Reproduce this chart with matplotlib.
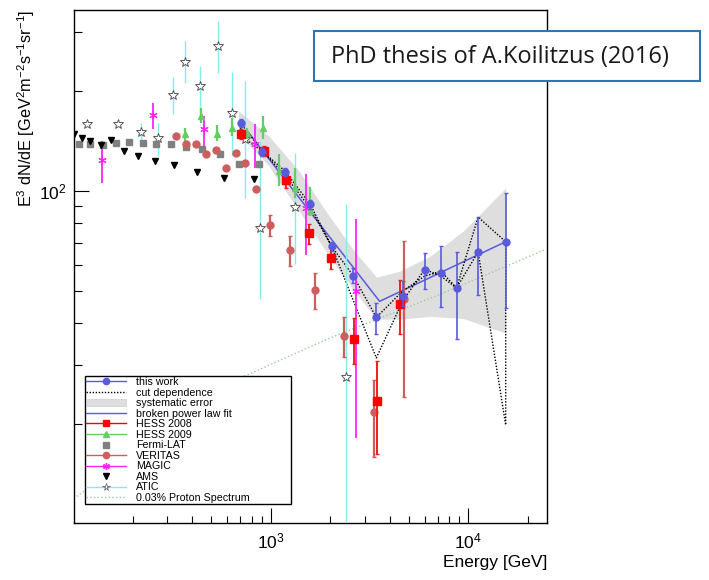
import matplotlib
matplotlib.use("Agg")
import matplotlib.pyplot as plt
from matplotlib.lines import Line2D
from matplotlib.patches import Patch, Rectangle
import numpy as np

plt.rcParams['font.family'] = ['Liberation Sans', 'DejaVu Sans']
plt.rcParams['mathtext.fontset'] = 'custom'
plt.rcParams['mathtext.rm'] = 'Liberation Sans'
plt.rcParams['mathtext.it'] = 'Liberation Sans'
plt.rcParams['mathtext.default'] = 'regular'

# ---- data (GeV, GeV^2 m^-2 s^-1 sr^-1) ----
this_E = [705, 903, 1179, 1581, 2030, 2620, 3422, 4643, 6012, 7263, 8714, 11180, 15450]
this_F = [160.6, 131.1, 114.1, 91.2, 68.3, 55.5, 41.7, 48.5, 57.8, 56.7, 51.1, 65.5, 70.4]
this_hi = [165, 135, 117, 94, 70.5, 58.8, 46.1, 53.6, 65.2, 68.3, 65.5, 83.5, 98.8]
this_lo = [156, 127, 111, 88.5, 66.2, 53.0, 37.2, 45.0, 50.9, 44.7, 35.8, 48.6, 44.5]

# cut dependence envelope (two paths)
cutA_E = [705, 903, 1179, 1581, 2030, 3422, 4643, 6012, 7263, 8714, 11200, 15450]
cutA_F = [160.6, 132, 114.9, 91.4, 68.3, 31.5, 46.6, 58.2, 55.5, 51.1, 83.5, 70.4]
cutB_E = [705, 903, 1179, 1581, 2030, 2620, 3422, 4643, 6012, 7263, 8714, 11200, 15450]
cutB_F = [146.5, 132, 111.7, 88.9, 68.3, 55.5, 41.7, 50.0, 55.5, 57.4, 51.1, 65.6, 19.8]

# systematic error band
band_E = [687, 977, 1390, 1977, 2652, 3433, 4498, 6398, 9430, 15450]
band_hi = [174.2, 146.4, 114.9, 84.1, 65.9, 55.1, 57.4, 63.7, 75.8, 102.1]
band_lo = [148.5, 118.9, 87.1, 63.7, 50.0, 41.2, 41.2, 42.0, 41.4, 37.4]

# broken power law fit
fit_E = [705, 3556, 15450]
fit_F = [160.6, 46.6, 70.4]

hess08_E = [705, 921, 1197, 1568, 2024, 2652, 3433, 4498]
hess08_F = [148.2, 132, 108, 74.6, 63.1, 35.9, 23.4, 45.6]
hess08_hi = [153.4, 136.6, 111.7, 79.4, 67.5, 41.5, 30.8, 54.2]
hess08_lo = [143.1, 127.5, 102.3, 69.1, 58.1, 30.1, 16.2, 37.2]

hess09_E = [370, 443, 532, 635, 757, 910, 1099, 1326, 1581]
hess09_F = [148.2, 168.2, 148.2, 155.1, 149.2, 154.9, 114.9, 102.3, 87.1]
hess09_hi = [155.1, 178.2, 158.1, 166.3, 155.0, 168.2, 129.0, 117.5, 102.8]
hess09_lo = [141.5, 160.6, 141.5, 146.4, 143.0, 143.1, 103.5, 95.5, 84.1]

fermi_E = [107, 122, 141, 164, 192, 225, 263, 314, 374, 451, 554, 687, 875]
fermi_F = [138, 138, 137.6, 139.2, 140.5, 139.9, 138.8, 138, 136, 134, 129, 120.6, 120.6]

veritas_E = [333, 374, 418, 468, 529, 594, 665, 744, 841, 992, 1255, 1673, 2357, 3341, 4731]
veritas_F = [146.7, 138.2, 138.2, 128.8, 132.9, 117.5, 130.5, 121.4, 101.2, 78.8, 66.4, 50.3, 36.7, 21.6, 47.5]
veritas_hi = [146.7, 138.2, 138.2, 128.8, 132.9, 117.5, 130.5, 121.4, 101.2, 84.7, 73.2, 56.8, 41.7, 27.1, 70.7]
veritas_lo = [146.7, 138.2, 138.2, 128.8, 132.9, 117.5, 130.5, 121.4, 101.2, 73.2, 59.7, 44.3, 31.8, 15.9, 24.1]

magic_E = [139.5, 253, 458, 829, 1503, 2699]
magic_F = [124, 169.4, 153.2, 138.2, 88.7, 50.2]
magic_hi = [141.5, 184.5, 168.2, 158.8, 112.7, 82.2]
magic_lo = [105.9, 153.4, 132, 117.5, 64.2, 18.1]

ams_E = [101, 111, 122, 138, 156, 181, 214, 260, 324, 425, 582, 826]
ams_F = [148.8, 144.7, 141.4, 137.6, 142.2, 132, 127.2, 123.1, 119.8, 113.8, 109.7, 108.6]

atic_E = [118, 169, 220, 270, 320, 367, 441, 543, 640, 743, 882, 1325, 2405]
atic_F = [158.8, 158.8, 150.6, 144.7, 194, 244.8, 207.2, 272, 171.8, 143, 77.5, 89.5, 27.6]
atic_hi = [158.8, 158.8, 160.3, 160.6, 220.5, 283, 237.9, 325, 228.6, 214, 141.5, 130.2, 91.4]
atic_lo = [158.8, 158.8, 138.2, 127.5, 170.2, 210.5, 172.1, 227, 127.5, 95.5, 47.3, 60.3, 5]

proton_E = [100.8, 711, 1977, 7194, 24700]
proton_F = [11.9, 27.5, 36.1, 48.9, 66.8]

labels = ["this work", "cut dependence", "systematic error", "broken power law fit",
          "HESS 2008", "HESS 2009", "Fermi-LAT", "VERITAS", "MAGIC", "AMS", "ATIC",
          "0.03% Proton Spectrum"]

c_blue = '#5a5adc'
c_green = '#66cc66'
c_ver = '#cc5e5e'
c_mag = '#ff22ff'
c_cyan = '#80eeee'
c_band = '#dedede'
c_prot = '#99cc99'
star6 = (6, 2, 0)


def yerr(F, lo, hi):
    F = np.array(F)
    return [F - np.array(lo), np.array(hi) - F]


fig = plt.figure(figsize=(7.09, 5.80), dpi=100)
ax = fig.add_axes([74/709, 1 - 523/580, 473/709, 513/580])
ax.set_xscale('log')
ax.set_yscale('log')

# band, fit, cut dependence
ax.fill_between(band_E, band_lo, band_hi, color=c_band, lw=0, zorder=1)
ax.plot(proton_E, proton_F, ls=':', color=c_prot, lw=1.0, zorder=2)
ax.plot(fit_E, fit_F, color=c_blue, lw=1.1, zorder=3)
cut_E = cutA_E + cutB_E[::-1] + [cutA_E[0]]
cut_F = cutA_F + cutB_F[::-1] + [cutA_F[0]]
ax.plot(cut_E, cut_F, ls=(0, (1, 1.2)), color='black', lw=1.0, zorder=4)

# data sets
ax.errorbar(atic_E, atic_F, yerr=yerr(atic_F, atic_lo, atic_hi), fmt='*', ms=7,
            mfc='white', mec='#444444', mew=0.6, ecolor=c_cyan, elinewidth=1.0, capsize=0, zorder=5)
ax.errorbar(magic_E, magic_F, yerr=yerr(magic_F, magic_lo, magic_hi), fmt='none',
            ecolor=c_mag, elinewidth=1.3, capsize=0, zorder=5)
ax.plot(magic_E, magic_F, ls='none', marker=star6, ms=6, mec=c_mag, mew=0.8, zorder=6)
ax.errorbar(veritas_E, veritas_F, yerr=yerr(veritas_F, veritas_lo, veritas_hi), fmt='o', ms=5,
            color=c_ver, ecolor=c_ver, elinewidth=1.6, capsize=1.5, zorder=6)
ax.errorbar(hess09_E, hess09_F, yerr=yerr(hess09_F, hess09_lo, hess09_hi), fmt='^', ms=5,
            color=c_green, ecolor=c_green, elinewidth=1.6, capsize=0, zorder=6)
ax.plot(fermi_E, fermi_F, ls='none', marker='s', ms=5, color='#808080', zorder=6)
ax.plot(ams_E, ams_F, ls='none', marker='v', ms=3.8, color='black', zorder=6)
ax.errorbar(hess08_E, hess08_F, yerr=yerr(hess08_F, hess08_lo, hess08_hi), fmt='s', ms=5.2,
            color='#ff0000', ecolor='#ee2020', elinewidth=1.4, capsize=1.5, zorder=7)
ax.errorbar(this_E, this_F, yerr=yerr(this_F, this_lo, this_hi), fmt='o', ms=5,
            color=c_blue, ecolor=c_blue, elinewidth=1.2, capsize=1.5, zorder=8)

ax.set_xlim(101, 25000)
ax.set_ylim(10.05, 350)

ax.tick_params(which='both', direction='in', top=False, right=False, labelsize=12.5)
ax.tick_params(which='major', length=10.8, width=0.8)
ax.tick_params(which='minor', length=5.4, width=0.8)
ax.tick_params(axis='x', pad=6)
ax.tick_params(axis='y', pad=5)
for s in ax.spines.values():
    s.set_linewidth(1.0)

ax.set_ylabel(r'E$^{3}$ dN/dE [GeV$^{2}$m$^{-2}$s$^{-1}$sr$^{-1}$]', fontsize=11.7, loc='top')
ax.yaxis.set_label_coords(-0.078, 1.0)
ax.set_xlabel('Energy [GeV]', fontsize=12.5, loc='right')
ax.xaxis.set_label_coords(1.0, -0.062)

handles = [
    Line2D([], [], color=c_blue, marker='o', ms=4.5, lw=1),
    Line2D([], [], color='black', ls=(0, (1, 1.2)), lw=1),
    Patch(facecolor=c_band, edgecolor='#cccccc', lw=0.5),
    Line2D([], [], color=c_blue, lw=1),
    Line2D([], [], color='#ff0000', marker='s', ms=4.5, lw=1),
    Line2D([], [], color=c_green, marker='^', ms=4.5, lw=1),
    Line2D([], [], color='#808080', marker='s', ms=4.5, ls='none'),
    Line2D([], [], color=c_ver, marker='o', ms=4.5, lw=1),
    Line2D([], [], color=c_mag, marker=star6, ms=5, lw=1),
    Line2D([], [], color='black', marker='v', ms=3.8, ls='none'),
    Line2D([], [], color=c_cyan, marker='*', ms=5.5, mfc='white', mec='#555555', mew=0.5, lw=1),
    Line2D([], [], color=c_prot, ls=':', lw=1),
]
leg = ax.legend(handles, labels, loc='lower left', bbox_to_anchor=(0.0233, 0.037, 0.4357, 0.2495),
                mode='expand', fontsize=7.7, frameon=True, fancybox=False, edgecolor='black',
                framealpha=1, handlelength=3.7, handletextpad=1.0, labelspacing=0.05,
                borderaxespad=0, borderpad=0.1)
leg.get_frame().set_linewidth(1.0)
leg.set_zorder(20)

# annotation box
fig.add_artist(Rectangle((314/709, 1 - 81/580), 386/709, 50/580, transform=fig.transFigure,
                         facecolor='white', edgecolor='#2e75b6', lw=1.5, zorder=30))
fig.text(331/709, 1 - 57/580, 'PhD thesis of A.Koilitzus (2016)', fontsize=17,
         family=['Open Sans', 'DejaVu Sans'], color='#1a1a1a', va='center', ha='left', zorder=31)

fig.savefig('out.png', dpi=100)
